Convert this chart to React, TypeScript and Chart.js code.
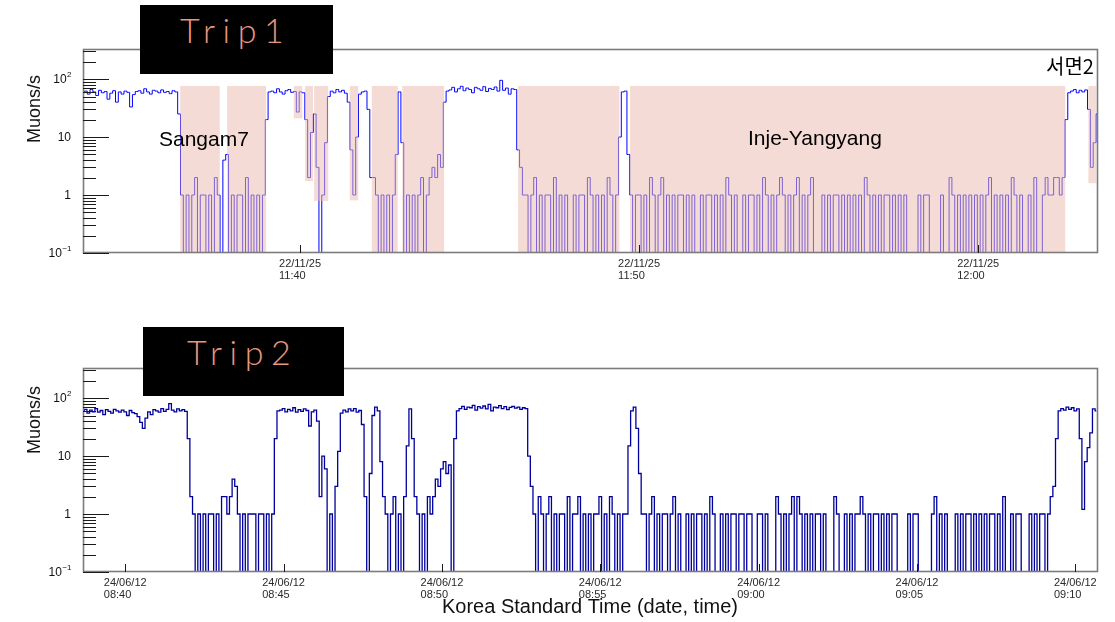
import React, { useEffect, useRef } from 'react';
import { Chart, registerables } from 'chart.js';

Chart.register(...registerables);

// Muon count rate, one value every 5 s.
const SAMPLE_STEP_S = 5;

// ---------- Trip 1 : 22/11/25, seconds relative to 11:40:00 KST ----------
const trip1FirstSample = -384;
const trip1RangeStart = -384;
const trip1RangeEnd = 1412;

const trip1OpenAir = [58, 62, 55, 66, 60, 52, 64, 58, 61, 45, 57, 63, 40, 60, 55, 62, 59, 33, 54, 61, 63, 57, 68, 60, 55, 64, 62, 58, 65, 59, 61, 56, 63, 60];
const trip1EnterSangam = [25, 1];
const trip1SangamA = [0, 1, 0, 1, 2, 0, 1, 1, 0, 1, 0, 2];
const trip1SangamGap = [1, 0, 4, 5, 0];
const trip1SangamB = [1, 0, 1, 1, 0, 2, 0, 1, 0, 1, 0, 1];
const trip1ShortTunnels = [20, 60, 62, 58, 68, 60, 55, 63, 66, 59, 61, 27, 60, 58, 20, 2, 12, 25, 3, 0, 1, 8, 50, 62, 58, 66, 60, 64, 57, 40, 6, 1, 10, 55, 60, 62, 30, 2];
const trip1TunnelG = [2, 1, 0, 1, 0, 1, 0, 1];
const trip1Bridge = [5, 60, 8];
const trip1TunnelH = [0, 1, 0, 1, 0, 1, 2, 0, 1, 2, 3, 2, 5, 3];
const trip1OpenValley = [40, 62, 65, 72, 60, 68, 75, 63, 70, 66, 58, 72, 68, 64, 74, 61, 69, 66, 73, 62, 95, 64, 70, 55, 68, 66, 6, 3, 1];
const trip1TunnelI = [1, 0, 1, 2, 0, 1, 0, 1, 1, 0, 2, 0, 1, 0, 1, 0, 0, 1, 0, 1, 1, 0, 2, 1, 0, 1, 0, 1, 0, 2, 1, 0, 1];
const trip1Bridge2 = [10, 60, 62, 5];
const trip1InjeYangyang = [
  1, 0, 1, 1, 0, 1, 0, 2, 1, 0, 1, 2,
  0, 1, 0, 1, 0, 1, 1, 0, 1, 0, 1,
  0, 0, 1, 0, 1, 1, 0, 1, 0, 1, 0, 2,
  1, 0, 1, 0, 0, 1, 0, 1, 1, 0, 1, 0, 2,
  1, 0, 1, 0, 1, 2, 1, 0, 1, 0, 1, 2, 0, 1, 0, 1, 2,
  0, 0, 0,
  1, 0, 1, 0, 1, 1, 0, 1, 0, 1, 0,
  1, 0, 1, 0, 2, 1, 0, 1, 0, 1, 0, 1, 1, 0,
  1, 0, 1, 0, 1,
  0, 0, 0, 0,
  1, 0, 1, 1, 0,
  0, 0, 0, 1, 0, 0,
  2, 1, 0, 1, 0, 1, 0, 1, 0, 1, 0,
  1, 0, 1, 2, 0, 1, 0, 1, 0, 1, 0,
  2, 1, 0, 1,
  0, 0, 1, 0, 2, 0, 0,
  1, 2, 1,
];
const trip1Seomyeon = [1, 2, 2, 1, 2, 20, 58, 62, 66, 58, 64, 60, 65, 30, 3, 8, 25];

const trip1Rate = [
  ...trip1OpenAir, ...trip1EnterSangam, ...trip1SangamA, ...trip1SangamGap, ...trip1SangamB,
  ...trip1ShortTunnels, ...trip1TunnelG, ...trip1Bridge, ...trip1TunnelH, ...trip1OpenValley,
  ...trip1TunnelI, ...trip1Bridge2, ...trip1InjeYangyang, ...trip1Seomyeon,
];

// tunnel shading (start s, end s, lower edge) for trip 1
const trip1ShadeStart = [-212, -129, -11, 9, 25, 88, 127, 181, 386, 584, 1395];
const trip1ShadeEnd = [-142, -60, 4, 23, 50, 103, 173, 255, 565, 1354, 1409];
const trip1ShadeLow = [0.1, 0.1, 21, 1.74, 0.79, 0.81, 0.1, 0.1, 0.1, 0.1, 1.6];
const trip1ShadeHigh = 76;

const trip1TickSeconds = [0, 600, 1200];
const trip1TickDate = ['22/11/25', '22/11/25', '22/11/25'];
const trip1TickTime = ['11:40', '11:50', '12:00'];

// ---------- Trip 2 : 24/06/12, seconds relative to 08:40:00 KST ----------
const trip2FirstSample = -80;
const trip2RangeStart = -80;
const trip2RangeEnd = 1843;

const trip2OpenAir = [60, 64, 55, 62, 58, 66, 57, 61, 52, 63, 59, 55, 64, 60, 57, 62, 58, 50, 61, 56, 54, 48, 38, 30, 45, 58, 52, 63, 60, 57, 66, 59, 64, 80, 62, 58, 65, 60, 63, 59];
const trip2Enter1 = [20, 2];
const trip2Tunnel1 = [1, 0, 1, 0, 1, 0, 1, 1, 0, 1, 0, 2, 2, 1, 2, 4, 3, 1, 0, 1, 0, 1, 1, 1, 0, 1, 1, 0, 1, 0, 1];
const trip2ShortTunnels = [20, 60, 62, 66, 58, 64, 60, 68, 57, 63, 59, 65, 61, 33, 58, 62, 40, 2, 10, 6, 0, 1, 0, 3, 12, 55, 62, 58, 65, 60, 66, 57, 61, 35, 2, 0, 5, 50, 70, 60, 8, 2];
const trip2Tunnel2 = [1, 0, 1, 2, 0, 1, 0, 2];
const trip2Bridge = [15, 65, 20, 2];
const trip2Tunnel3 = [1, 0, 1, 0, 2, 1, 2, 4, 3, 6, 8, 5, 7, 0];
const trip2OpenValley = [20, 60, 66, 72, 64, 70, 68, 75, 62, 71, 67, 73, 65, 78, 60, 70, 68, 74, 66, 71, 63, 69, 72, 67, 70, 64, 68, 66, 10, 3];
const trip2Tunnel4 = [1, 0, 2, 1, 0, 1, 2, 0, 1, 0, 1, 1, 0, 2, 0, 1, 1, 2, 0, 1, 0, 1, 0, 1, 1, 2, 0, 1, 0, 2, 1, 0, 1, 0, 1, 1];
const trip2Bridge2 = [15, 60, 70, 30, 5, 1];
const trip2LongTunnel = [
  1, 0, 1, 2, 0, 1, 0, 1, 1, 0,
  1, 2, 0, 1, 0, 0, 1, 0, 1, 0,
  1, 1, 0, 1, 0, 2, 1, 0, 0, 1,
  0, 1, 0, 1, 1, 0, 1,
  1, 0, 1, 1, 0,
  0,
  1, 1, 0, 1,
  0, 0, 0,
  2, 1, 0, 1, 0, 1, 2, 0, 2, 1, 0, 1, 0, 1, 0, 1, 1, 0, 1, 0,
  0, 0,
  2, 1,
  0, 0,
  1, 0, 1, 0, 1, 1,
  2, 1,
  0, 1, 0, 1, 1, 0, 1, 0, 1, 0, 1, 1, 0,
  0, 0, 0,
  1, 0, 1, 1, 0,
  0, 0, 0, 0,
  1, 2, 0, 1, 0, 1,
  0, 0, 0,
  1, 0, 1, 0, 1, 1, 0, 1, 0, 1, 0, 1, 0, 1, 1, 0, 1, 0, 2,
  0, 0,
  1, 0, 1, 1,
  0, 0, 0,
  1, 0, 1, 0, 1, 1, 0, 1,
];
const trip2Exit = [2, 3, 20, 60, 66, 62, 70, 64, 68, 60, 65, 20, 1.2, 8, 14, 25, 65, 60];

const trip2Rate = [
  ...trip2OpenAir, ...trip2Enter1, ...trip2Tunnel1, ...trip2ShortTunnels, ...trip2Tunnel2,
  ...trip2Bridge, ...trip2Tunnel3, ...trip2OpenValley, ...trip2Tunnel4, ...trip2Bridge2,
  ...trip2LongTunnel, ...trip2Exit,
];

const trip2TickSeconds = [0, 300, 600, 900, 1200, 1500, 1800];
const trip2TickDate = ['24/06/12', '24/06/12', '24/06/12', '24/06/12', '24/06/12', '24/06/12', '24/06/12'];
const trip2TickTime = ['08:40', '08:45', '08:50', '08:55', '09:00', '09:05', '09:10'];

// ---------- shared y axis ----------
const Y_MIN = 0.1;
const Y_MAX = 330;
const yMajorValues = [0.1, 1, 10, 100];
const yMajorBase = ['10', '1', '10', '10'];
const yMajorExp = ['\u22121', '', '', '2'];

const SANS = '"Liberation Sans", Arial, Helvetica, sans-serif';

function toPoints(first: number, rate: number[]) {
  return rate.map((v, i) => ({ x: first + i * SAMPLE_STEP_S, y: v }));
}

type PanelOpts = {
  yTitleCenter: number;
  tickSeconds: number[];
  tickDate: string[];
  tickTime: string[];
  xTitle?: string;
  xTitleBaseline?: number;
  shade?: { start: number[]; end: number[]; low: number[]; high: number };
  notes?: { text: string; x: number; y: number; font: string }[];
};

function panelPlugin(o: PanelOpts) {
  return {
    id: 'rootLook',
    afterDatasetsDraw(chart: any) {
      if (!o.shade) return;
      const { ctx, chartArea: a } = chart;
      const xs = chart.scales.x;
      const ys = chart.scales.y;
      ctx.save();
      ctx.beginPath();
      ctx.rect(a.left, a.top, a.right - a.left, a.bottom - a.top);
      ctx.clip();
      ctx.fillStyle = 'rgba(236,186,175,0.52)';
      for (let k = 0; k < o.shade.start.length; k++) {
        const x0 = xs.getPixelForValue(o.shade.start[k]);
        const x1 = xs.getPixelForValue(o.shade.end[k]);
        const y0 = ys.getPixelForValue(o.shade.high);
        const y1 = ys.getPixelForValue(o.shade.low[k]);
        ctx.fillRect(x0, y0, x1 - x0, y1 - y0);
      }
      ctx.restore();
    },
    afterDraw(chart: any) {
      const { ctx, chartArea: a } = chart;
      const xs = chart.scales.x;
      const ys = chart.scales.y;
      ctx.save();
      // frame
      ctx.strokeStyle = '#7c7c7c';
      ctx.lineWidth = 1.6;
      ctx.strokeRect(a.left + 0.5, a.top + 0.5, a.right - a.left - 1, a.bottom - a.top - 1);

      // y ticks (inside, ROOT style)
      ctx.strokeStyle = '#1a1a1a';
      ctx.lineWidth = 1;
      ctx.beginPath();
      for (let e = -1; e <= 2; e++) {
        for (let m = 1; m <= 9; m++) {
          const v = m * Math.pow(10, e);
          if (v < Y_MIN || v > Y_MAX) continue;
          const py = Math.round(ys.getPixelForValue(v)) + 0.5;
          const len = m === 1 ? 26 : 13;
          ctx.moveTo(a.left, py);
          ctx.lineTo(a.left + len, py);
        }
      }
      ctx.stroke();

      // y labels
      ctx.fillStyle = '#111';
      ctx.textBaseline = 'middle';
      yMajorValues.forEach((v, k) => {
        const py = ys.getPixelForValue(v);
        ctx.font = '8px ' + SANS;
        const ew = yMajorExp[k] ? ctx.measureText(yMajorExp[k]).width : 0;
        const right = 71 - ew;
        ctx.textAlign = 'left';
        if (yMajorExp[k]) ctx.fillText(yMajorExp[k], right + 0.5, py - 4);
        ctx.font = '12px ' + SANS;
        ctx.textAlign = 'right';
        ctx.fillText(yMajorBase[k], right, py + 1);
      });

      // y title
      ctx.save();
      ctx.translate(40, o.yTitleCenter);
      ctx.rotate(-Math.PI / 2);
      ctx.font = '18px ' + SANS;
      ctx.textAlign = 'center';
      ctx.textBaseline = 'alphabetic';
      ctx.fillStyle = '#111';
      ctx.fillText('Muons/s', 0, 0);
      ctx.restore();

      // x ticks + two-line time labels
      ctx.strokeStyle = '#1a1a1a';
      ctx.beginPath();
      o.tickSeconds.forEach((t) => {
        const px = Math.round(xs.getPixelForValue(t)) + 0.5;
        ctx.moveTo(px, a.bottom);
        ctx.lineTo(px, a.bottom - 8);
      });
      ctx.stroke();
      ctx.font = '11px ' + SANS;
      ctx.fillStyle = '#2a2a2a';
      ctx.textAlign = 'left';
      ctx.textBaseline = 'alphabetic';
      o.tickSeconds.forEach((t, k) => {
        const px = xs.getPixelForValue(t);
        const w = Math.max(ctx.measureText(o.tickDate[k]).width, ctx.measureText(o.tickTime[k]).width);
        const left = px - w / 2;
        ctx.fillText(o.tickDate[k], left, a.bottom + 13.5);
        ctx.fillText(o.tickTime[k], left, a.bottom + 25.5);
      });

      if (o.xTitle) {
        ctx.font = '20px ' + SANS;
        ctx.fillStyle = '#111';
        ctx.textAlign = 'center';
        ctx.fillText(o.xTitle, 590, o.xTitleBaseline || 0);
      }

      if (o.notes) {
        ctx.fillStyle = '#000';
        ctx.textAlign = 'left';
        ctx.textBaseline = 'alphabetic';
        o.notes.forEach((n) => {
          ctx.font = n.font;
          ctx.fillText(n.text, n.x, n.y);
        });
      }
      ctx.restore();
    },
  };
}

function makeChart(
  canvas: HTMLCanvasElement,
  points: { x: number; y: number }[],
  xmin: number,
  xmax: number,
  color: string,
  width: number,
  padding: { left: number; right: number; top: number; bottom: number },
  plugin: any
) {
  return new Chart(canvas, {
    type: 'line',
    data: {
      datasets: [
        {
          data: points,
          borderColor: color,
          borderWidth: width,
          pointRadius: 0,
          fill: false,
          stepped: 'middle',
        },
      ],
    },
    options: {
      responsive: false,
      animation: false,
      parsing: false,
      normalized: true,
      events: [],
      layout: { padding },
      plugins: { legend: { display: false }, tooltip: { enabled: false }, title: { display: false } },
      scales: {
        x: { type: 'linear', min: xmin, max: xmax, display: false },
        y: { type: 'logarithmic', min: Y_MIN, max: Y_MAX, display: false },
      },
    } as any,
    plugins: [plugin],
  });
}

export default function App() {
  const topRef = useRef<HTMLCanvasElement>(null);
  const botRef = useRef<HTMLCanvasElement>(null);

  useEffect(() => {
    if (!topRef.current || !botRef.current) return;
    const c1 = makeChart(
      topRef.current,
      toPoints(trip1FirstSample, trip1Rate),
      trip1RangeStart,
      trip1RangeEnd,
      '#0000ff',
      1,
      { left: 83, right: 17, top: 49, bottom: 47 },
      panelPlugin({
        yTitleCenter: 109,
        tickSeconds: trip1TickSeconds,
        tickDate: trip1TickDate,
        tickTime: trip1TickTime,
        shade: { start: trip1ShadeStart, end: trip1ShadeEnd, low: trip1ShadeLow, high: trip1ShadeHigh },
        notes: [
          { text: 'Sangam7', x: 159, y: 146, font: '21px ' + SANS },
          { text: 'Inje-Yangyang', x: 748, y: 145, font: '21px ' + SANS },
          { text: '서면2', x: 1046, y: 74, font: '20px "Noto Sans CJK KR", sans-serif' },
        ],
      })
    );
    const c2 = makeChart(
      botRef.current,
      toPoints(trip2FirstSample, trip2Rate),
      trip2RangeStart,
      trip2RangeEnd,
      '#00009c',
      1.3,
      { left: 83, right: 17, top: 68, bottom: 50 },
      panelPlugin({
        yTitleCenter: 120,
        tickSeconds: trip2TickSeconds,
        tickDate: trip2TickDate,
        tickTime: trip2TickTime,
        xTitle: 'Korea Standard Time (date, time)',
        xTitleBaseline: 313,
      })
    );
    return () => {
      c1.destroy();
      c2.destroy();
    };
  }, []);

  const tripText: React.CSSProperties = {
    position: 'absolute',
    color: '#e9957f',
    fontFamily: '"Lato", "Liberation Sans", Arial, sans-serif',
    fontWeight: 300,
    fontSize: '34px',
    lineHeight: '34px',
    letterSpacing: '7.5px',
    whiteSpace: 'nowrap',
  };

  return (
    <div style={{ position: 'fixed', left: 0, top: 0, width: 1115, height: 622, background: '#fff', overflow: 'hidden' }}>
      <canvas ref={topRef} width={1115} height={300} style={{ position: 'absolute', left: 0, top: 0 }} />
      <canvas ref={botRef} width={1115} height={322} style={{ position: 'absolute', left: 0, top: 300 }} />
      <div style={{ position: 'absolute', left: 140, top: 5, width: 193, height: 69, background: '#000' }} />
      <div style={{ ...tripText, left: 180, top: 13 }}>Trip1</div>
      <div style={{ position: 'absolute', left: 143, top: 327, width: 201, height: 69, background: '#000' }} />
      <div style={{ ...tripText, left: 187, top: 335 }}>Trip2</div>
    </div>
  );
}
